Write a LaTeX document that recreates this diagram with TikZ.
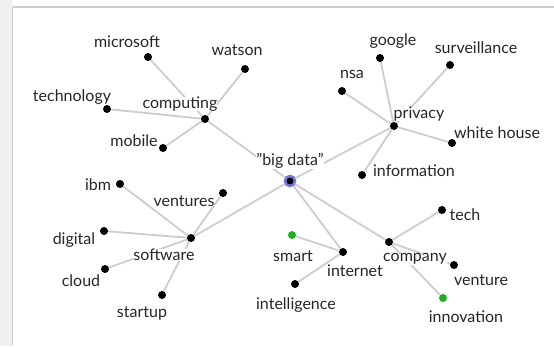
\documentclass[tikz,border=0pt]{standalone}
\usepackage{fontspec}
\setmainfont{Lato}
\usetikzlibrary{backgrounds}

\definecolor{linkgray}{RGB}{205,205,205}
\definecolor{framegray}{RGB}{205,205,205}
\definecolor{ringblue}{RGB}{118,118,214}
\definecolor{leafgreen}{RGB}{30,175,30}

\tikzset{
    dot/.style = {circle, fill = black, inner sep = 0pt, minimum size = 8pt},
    greendot/.style = {dot, fill = leafgreen},
    hub/.style = {circle, fill = black, draw = ringblue, line width = 2.6pt, inner sep = 0pt, minimum size = 10pt},
    word/.style = {font = \fontsize{16}{18}\selectfont, text = black!85, fill = white, inner sep = 0pt},
    link/.style = {draw = linkgray, line width = 1.8pt}
}

\begin{document}
\begin{tikzpicture}[x = 1pt, y = -1pt]
        \useasboundingbox (0,0) rectangle (554,346);
        \fill[black!6] (0,0) rectangle (12,346);
        \draw[framegray, line width = 1.2pt] (12.5,7) -- (12.5,346);
        \draw[framegray, line width = 1.2pt] (12.5,7) -- (554,7);

        % labels
        \node[word] (tbig) at (290,161) {\symbol{34}big data\symbol{34}};
        \node[word] (tcomputing) at (180,104) {computing};
        \node[word] (tmicrosoft) at (127,42) {microsoft};
        \node[word] (twatson) at (237,50) {watson};
        \node[word] (ttechnology) at (72,97) {technology};
        \node[word] (tmobile) at (134,141) {mobile};
        \node[word] (tprivacy) at (419,114) {privacy};
        \node[word] (tgoogle) at (393,41) {google};
        \node[word] (tsurveillance) at (476,48) {surveillance};
        \node[word] (tnsa) at (352,74) {nsa};
        \node[word] (twhitehouse) at (497,133) {white house};
        \node[word] (tinformation) at (414,171) {information};
        \node[word] (tsoftware) at (164,255) {software};
        \node[word] (tibm) at (98,185) {ibm};
        \node[word] (tventures) at (184,201) {ventures};
        \node[word] (tdigital) at (74,240) {digital};
        \node[word] (tcloud) at (81,281) {cloud};
        \node[word] (tstartup) at (142,313) {startup};
        \node[word] (tinternet) at (355,271) {internet};
        \node[word] (tsmart) at (293,256) {smart};
        \node[word] (tintelligence) at (296,305) {intelligence};
        \node[word] (tcompany) at (415,259) {company};
        \node[word] (ttech) at (465,215) {tech};
        \node[word] (tventure) at (481,280) {venture};
        \node[word] (tinnovation) at (466,317) {innovation};

        % dots
        \node[hub] (big) at (290,181) {};
        \node[dot] (computing) at (205,119) {};
        \node[dot] (microsoft) at (148,57) {};
        \node[dot] (watson) at (245,69) {};
        \node[dot] (technology) at (107,109) {};
        \node[dot] (mobile) at (163,148) {};
        \node[dot] (privacy) at (394,126) {};
        \node[dot] (google) at (380,58) {};
        \node[dot] (surveillance) at (450,65) {};
        \node[dot] (nsa) at (342,91) {};
        \node[dot] (whitehouse) at (452,143) {};
        \node[dot] (information) at (362,175) {};
        \node[dot] (software) at (191,238) {};
        \node[dot] (ibm) at (120,184) {};
        \node[dot] (ventures) at (223,193) {};
        \node[dot] (digital) at (104,231) {};
        \node[dot] (cloud) at (105,269) {};
        \node[dot] (startup) at (162,295) {};
        \node[dot] (internet) at (343,252) {};
        \node[greendot] (smart) at (292,235) {};
        \node[dot] (intelligence) at (295,284) {};
        \node[dot] (company) at (389,242) {};
        \node[dot] (tech) at (442,210) {};
        \node[dot] (venture) at (454,265) {};
        \node[greendot] (innovation) at (443,298) {};

        \begin{scope}[on background layer]
            \foreach \a/\b in {big/computing, big/privacy, big/software, big/internet, big/company,
                computing/microsoft, computing/watson, computing/technology, computing/mobile,
                privacy/google, privacy/surveillance, privacy/nsa, privacy/whitehouse, privacy/information,
                software/ibm, software/ventures, software/digital, software/cloud, software/startup,
                internet/smart, internet/intelligence,
                company/tech, company/venture, company/innovation}
                \draw[link] (\a) -- (\b);
        \end{scope}
    \end{tikzpicture}
\end{document}
